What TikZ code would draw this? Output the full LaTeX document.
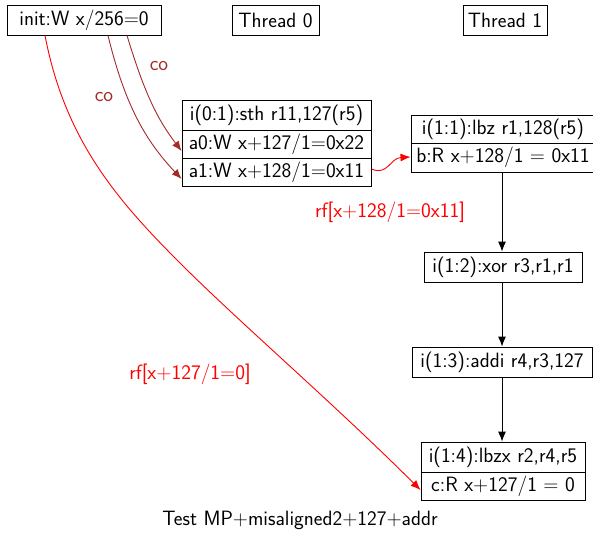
\documentclass[tikz,border=0pt]{standalone}
\usetikzlibrary{arrows.meta}
\definecolor{cobrown}{RGB}{165,42,42}
\begin{document}
\begin{tikzpicture}[x=1pt,y=-1pt,
  every node/.style={font=\sffamily\fontsize{20.7}{24}\selectfont, inner sep=0pt},
  box/.style={draw, line width=0.9pt, minimum height=#1},
  box/.default=30pt,
  arr/.style={-{Latex[length=10pt,width=8pt]}, line width=0.9pt},
  co/.style={arr, cobrown},
  rf/.style={arr, red},
  lab/.style={font=\sffamily\fontsize{20.7}{24}\selectfont}]
\useasboundingbox (0,0) rectangle (593,536);
\node[box, minimum width=154pt] (init) at (84,20) {init:W x/256=0\hspace{8pt}};
\node[box, minimum width=87pt] (th0) at (275.5,20) {Thread 0};
\node[box, minimum width=84pt] (th1) at (505,20) {Thread 1};
\node[box=30pt, minimum width=189pt] (t0a) at (276.5,115) {i(0:1):sth r11,127(r5)};
\node[box=28pt, minimum width=189pt] (t0b) at (276.5,144) {a0:W x+127/1=0x22};
\node[box=28pt, minimum width=189pt] (t0c) at (276.5,172) {a1:W x+128/1=0x11};
\node[box=28pt, minimum width=184pt] (b1) at (503,129) {i(1:1):lbz r1,128(r5)};
\node[box=29pt, minimum width=184pt] (b2) at (503,157.5) {b:R x+128/1 = 0x11};
\node[box, minimum width=158pt] (i12) at (503,267) {i(1:2):xor r3,r1,r1};
\node[box, minimum width=180pt] (i13) at (502,362) {i(1:3):addi r4,r3,127};
\node[box=30pt, minimum width=164pt] (i14a) at (503,457) {i(1:4):lbzx r2,r4,r5};
\node[box=28pt, minimum width=164pt] (i14b) at (503,486) {c:R x+127/1 = 0};
\draw[arr] (b2.south -| 502,0) -- (i12.north -| 502,0);
\draw[arr] (i12.south -| 502,0) -- (i13.north -| 502,0);
\draw[arr] (i13.south -| 502,0) -- (i14a.north -| 502,0);
\draw[co] ([xshift=43pt]init.south) .. controls (145,95) and (158,120) .. ([yshift=-7pt]t0b.west);
\draw[co] ([xshift=24pt]init.south) .. controls (125,105) and (145,140) .. ([yshift=-7pt]t0c.west);
\draw[rf] ([yshift=3pt]t0c.east) .. controls (388,176) and (390,158) .. ([yshift=0.5pt]b2.west);
\draw[rf] ([xshift=-39pt]init.south) .. controls (65,140) and (117,200) .. (180,263) .. controls (240,323) and (330,400) .. ([yshift=-4pt]i14b.west);
\node[lab, text=cobrown] (co1) at (159,66) {co};
\node[lab, text=cobrown] (co2) at (104,97) {co};
\node[lab, text=red] (rf1) at (390,212) {rf[x+128/1=0x11]};
\node[lab, text=red] (rf2) at (190,374) {rf[x+127/1=0]};
\node (cap) at (300,520) {Test MP+misaligned2+127+addr};
\end{tikzpicture}
\end{document}
